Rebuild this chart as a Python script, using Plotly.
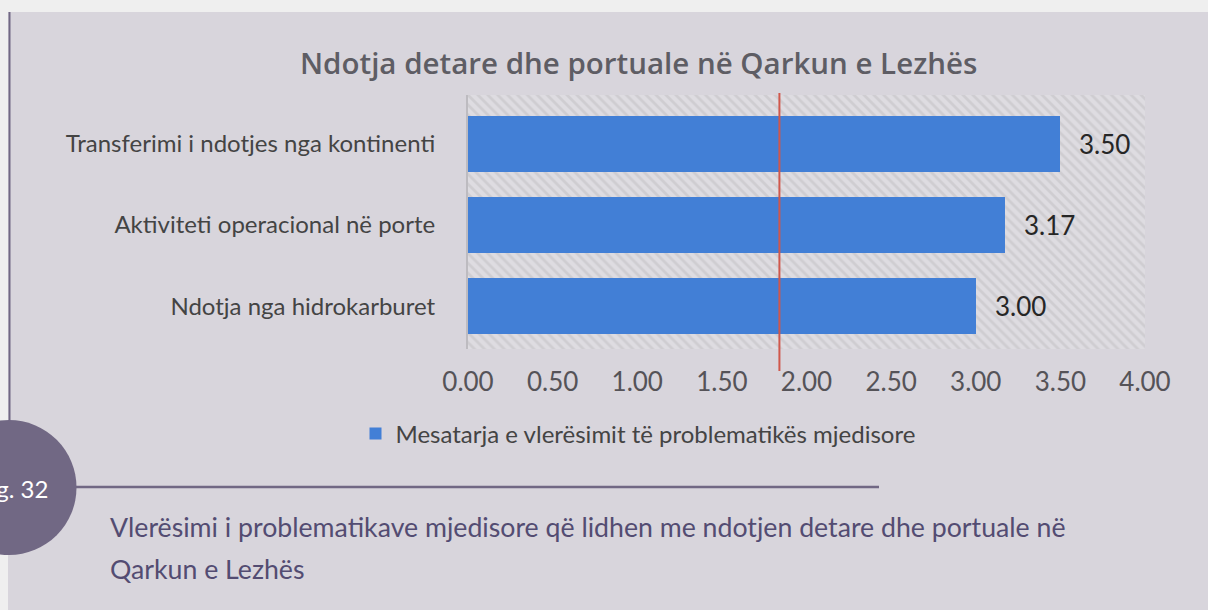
import plotly.graph_objects as go

# ---- data ----
categories = [
    "Transferimi i ndotjes nga kontinenti",
    "Aktiviteti operacional në porte",
    "Ndotja nga hidrokarburet",
]
values = [3.50, 3.17, 3.00]
threshold = 1.84
x_max = 4.0
x_ticks = [0, 0.5, 1, 1.5, 2, 2.5, 3, 3.5, 4]
series_name = "Mesatarja e vlerësimit të problematikës mjedisore"
title_text = "Ndotja detare dhe portuale në Qarkun e Lezhës"
caption_lines = [
    "Vlerësimi i problematikave mjedisore që lidhen me ndotjen detare dhe portuale në",
    "Qarkun e Lezhës",
]
fig_label = "Fig. 32"

# ---- layout geometry (pixels) ----
W_PX, H_PX = 1208, 610
L, R, T, B = 468, 1145, 95, 349
PW, PH = R - L, B - T


def px(x):
    return (x - L) / PW


def py(y):
    return (B - y) / PH


PURPLE = "#716884"
PANEL = "#d8d5dc"
BLUE = "#427fd6"
FONT = "Lato"

fig = go.Figure()

# hatched plot background (full plot area, on its own hidden axis)
fig.add_trace(go.Bar(
    y=[0], x=[x_max], orientation="h", width=1, yaxis="y",
    marker=dict(color="#dcdadf", line=dict(width=0),
                pattern=dict(shape="\\", fgcolor="#bfbdc2", bgcolor="#dedce1",
                             size=7, solidity=0.4)),
    showlegend=False, hoverinfo="skip",
))

fig.add_trace(go.Bar(
    y=categories, x=values, orientation="h", width=0.69, yaxis="y2",
    marker=dict(color=BLUE, line=dict(width=0)),
    name=series_name, showlegend=True,
))

shapes = [
    # panel
    dict(type="rect", xref="paper", yref="paper", x0=px(8), x1=px(1210), y0=py(612), y1=py(12),
         fillcolor=PANEL, line=dict(width=0), layer="below"),
    # left vertical rule
    dict(type="line", xref="paper", yref="paper", x0=px(9.5), x1=px(9.5), y0=py(12), y1=py(425),
         line=dict(color=PURPLE, width=2)),
    # horizontal rule
    dict(type="line", xref="paper", yref="paper", x0=px(70), x1=px(879), y0=py(487), y1=py(487),
         line=dict(color=PURPLE, width=2.5)),
    # circle
    dict(type="circle", xref="paper", yref="paper", x0=px(9 - 67.5), x1=px(9 + 67.5),
         y0=py(487.5 + 67.5), y1=py(487.5 - 67.5), fillcolor=PURPLE, line=dict(width=0)),
    # red reference line
    dict(type="line", xref="x", yref="paper", x0=threshold, x1=threshold, y0=py(371), y1=py(93),
         line=dict(color="#d0574b", width=2), layer="above"),
]

annotations = [
    dict(text=title_text, xref="paper", yref="paper", x=px(638), y=py(62), xanchor="center",
         yanchor="middle", showarrow=False,
         font=dict(family="Open Sans", size=29.5, color="#5e5d64", weight=600)),
    dict(text=fig_label, xref="paper", yref="paper", x=px(50), y=py(488), xanchor="right",
         yanchor="middle", showarrow=False, font=dict(family=FONT, size=24, color="white")),
    dict(text=caption_lines[0], xref="paper", yref="paper", x=px(108), y=py(527), xanchor="left",
         yanchor="middle", showarrow=False, font=dict(family=FONT, size=26.7, color="#534c72")),
    dict(text=caption_lines[1], xref="paper", yref="paper", x=px(108), y=py(569), xanchor="left",
         yanchor="middle", showarrow=False, font=dict(family=FONT, size=26.7, color="#534c72")),
]
for c, v in zip(categories, values):
    annotations.append(dict(text=f"{v:.2f}", x=v, y=c, xref="x", yref="y2", xanchor="left",
                            yanchor="middle", xshift=17, showarrow=False,
                            font=dict(family=FONT, size=26, color="#262626")))

fig.update_layout(
    width=W_PX, height=H_PX,
    margin=dict(l=L, r=W_PX - R, t=T, b=H_PX - B, autoexpand=False),
    paper_bgcolor="#efefef", plot_bgcolor="rgba(0,0,0,0)",
    barmode="overlay", bargap=0,
    shapes=shapes, annotations=annotations,
    font=dict(family=FONT, color="#444"),
    legend=dict(orientation="h", x=px(638), y=py(434), xanchor="center", yanchor="middle",
                font=dict(family=FONT, size=24, color="#444"), bgcolor="rgba(0,0,0,0)"),
    xaxis=dict(range=[0, x_max], tickvals=x_ticks, tickformat=".2f", showgrid=False,
               zeroline=False, showline=False, ticks="",
               tickfont=dict(family=FONT, size=26, color="#555358"), ticklabelstandoff=15),
    yaxis=dict(range=[-0.5, 0.5], visible=False, fixedrange=True),
    yaxis2=dict(overlaying="y", side="left", range=[2.525, -0.6], showgrid=False,
                zeroline=False, showline=True, linecolor="#bdbbc0", linewidth=2, ticks="",
                tickfont=dict(family=FONT, size=24, color="#444"), ticklabelstandoff=26),
)

fig.write_html(
    "out.html",
    config={"displayModeBar": False},
    post_script=(
        "document.documentElement.style.overflow='hidden';"
        "document.body.style.margin='0';document.body.style.overflow='hidden';"
        "document.body.style.background='#d8d5dc';"
    ),
)
